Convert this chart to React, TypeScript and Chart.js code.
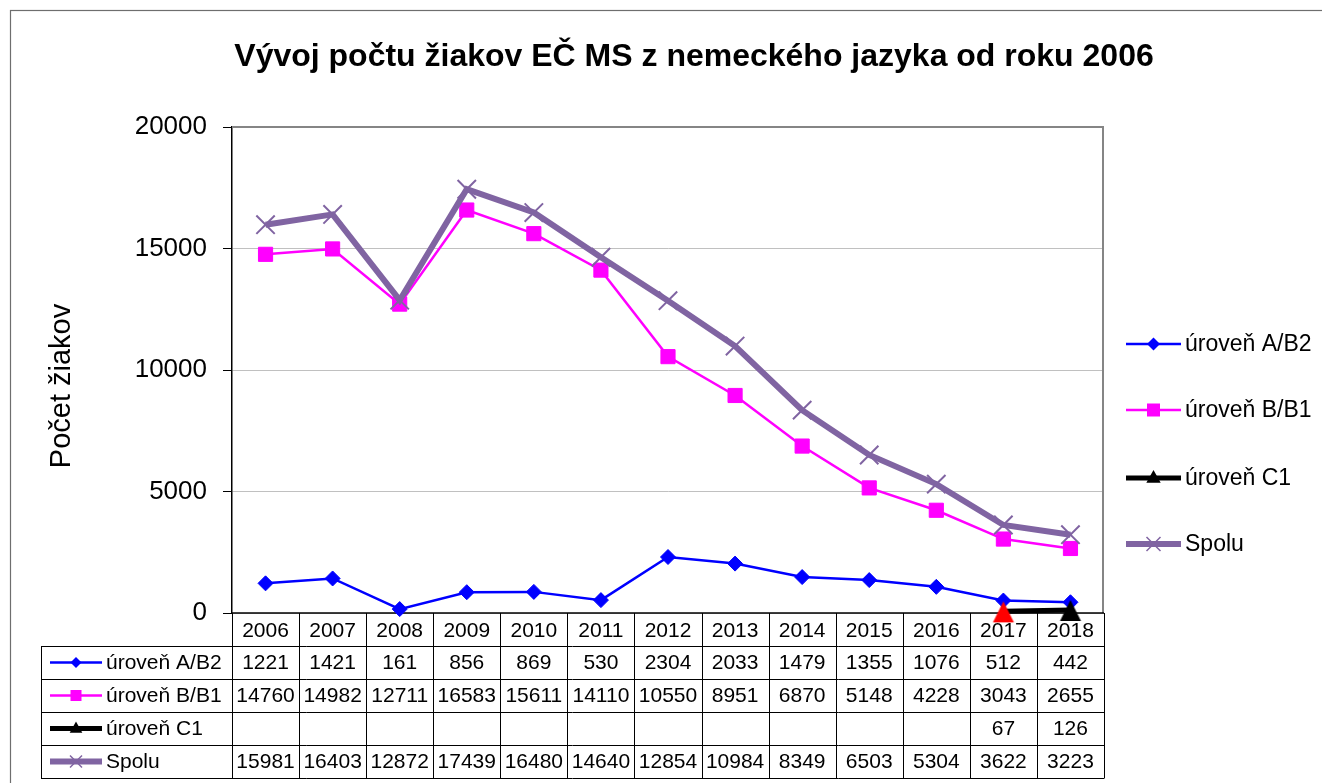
import React, { useEffect, useRef } from "react";
import { Chart, registerables } from "chart.js";

Chart.register(...registerables);

const years = ["2006", "2007", "2008", "2009", "2010", "2011", "2012", "2013", "2014", "2015", "2016", "2017", "2018"];
const seriesAB2 = [1221, 1421, 161, 856, 869, 530, 2304, 2033, 1479, 1355, 1076, 512, 442];
const seriesBB1 = [14760, 14982, 12711, 16583, 15611, 14110, 10550, 8951, 6870, 5148, 4228, 3043, 2655];
const seriesC1: (number | null)[] = [null, null, null, null, null, null, null, null, null, null, null, 67, 126];
const seriesSpolu = [15981, 16403, 12872, 17439, 16480, 14640, 12854, 10984, 8349, 6503, 5304, 3622, 3223];
const seriesNames = ["úroveň A/B2", "úroveň B/B1", "úroveň C1", "Spolu"];
const yTicks = [0, 5000, 10000, 15000, 20000];
const titleText = "Vývoj počtu žiakov EČ MS z nemeckého jazyka od roku 2006";
const yTitleText = "Počet žiakov";

const FONT = '"Liberation Sans", Arial, Helvetica, sans-serif';
const BLUE = "#0000FF";
const MAGENTA = "#FF00FF";
const BLACK = "#000000";
const PURPLE = "#8064A2";
const RED = "#FF0000";

type Style = { color: string; lineWidth: number; marker: string; legendSize: number; tableSize: number };
const legendStyles: Style[] = [
  { color: BLUE, lineWidth: 2.5, marker: "diamond", legendSize: 6.5, tableSize: 5.5 },
  { color: MAGENTA, lineWidth: 2.5, marker: "square", legendSize: 6.5, tableSize: 5.5 },
  { color: BLACK, lineWidth: 5, marker: "triangle", legendSize: 8, tableSize: 7 },
  { color: PURPLE, lineWidth: 6, marker: "x", legendSize: 7, tableSize: 6 },
];

function drawMarker(ctx: CanvasRenderingContext2D, kind: string, x: number, y: number, s: number, color: string) {
  ctx.save();
  ctx.fillStyle = color;
  ctx.strokeStyle = color;
  ctx.beginPath();
  if (kind === "diamond") {
    ctx.moveTo(x - s, y);
    ctx.lineTo(x, y - s);
    ctx.lineTo(x + s, y);
    ctx.lineTo(x, y + s);
    ctx.closePath();
    ctx.fill();
  } else if (kind === "square") {
    ctx.rect(x - s, y - s, 2 * s, 2 * s);
    ctx.fill();
  } else if (kind === "triangle") {
    ctx.moveTo(x, y - s);
    ctx.lineTo(x + s * 0.9, y + s * 0.6);
    ctx.lineTo(x - s * 0.9, y + s * 0.6);
    ctx.closePath();
    ctx.fill();
  } else if (kind === "x") {
    ctx.lineWidth = 1.5;
    ctx.moveTo(x - s, y - s);
    ctx.lineTo(x + s, y + s);
    ctx.moveTo(x + s, y - s);
    ctx.lineTo(x - s, y + s);
    ctx.stroke();
  }
  ctx.restore();
}

function makeTriangle(color: string): HTMLCanvasElement {
  const c = document.createElement("canvas");
  c.width = 24;
  c.height = 24;
  const g = c.getContext("2d")!;
  g.fillStyle = color;
  g.beginPath();
  g.moveTo(12, 2);
  g.lineTo(22.5, 23);
  g.lineTo(1.5, 23);
  g.closePath();
  g.fill();
  return c;
}

function drawKey(ctx: CanvasRenderingContext2D, st: Style, x1: number, x2: number, y: number, size: number) {
  ctx.save();
  ctx.strokeStyle = st.color;
  ctx.lineWidth = st.lineWidth;
  ctx.lineCap = "butt";
  ctx.beginPath();
  ctx.moveTo(x1, y);
  ctx.lineTo(x2, y);
  ctx.stroke();
  ctx.restore();
  drawMarker(ctx, st.marker, (x1 + x2) / 2, y, size, st.color);
}

const decorPlugin = {
  id: "decor",
  beforeDraw(chart: any) {
    const ctx: CanvasRenderingContext2D = chart.ctx;
    ctx.save();
    ctx.fillStyle = "#ffffff";
    ctx.fillRect(0, 0, chart.width, chart.height);
    ctx.strokeStyle = "#6e6e6e";
    ctx.lineWidth = 1.2;
    ctx.strokeRect(10.5, 10.5, chart.width + 50, chart.height + 50);
    ctx.fillStyle = "#000";
    ctx.font = `bold 32px ${FONT}`;
    ctx.textAlign = "center";
    ctx.textBaseline = "middle";
    ctx.fillText(titleText, 694, 57);
    ctx.save();
    ctx.translate(62, 386);
    ctx.rotate(-Math.PI / 2);
    ctx.font = `29px ${FONT}`;
    ctx.fillText(yTitleText, 0, 0);
    ctx.restore();
    ctx.restore();
  },
  beforeDatasetsDraw(chart: any) {
    const ctx: CanvasRenderingContext2D = chart.ctx;
    const a = chart.chartArea;
    ctx.save();
    ctx.strokeStyle = "#858585";
    ctx.lineWidth = 2;
    ctx.beginPath();
    ctx.moveTo(a.left, a.top);
    ctx.lineTo(a.right - 1, a.top);
    ctx.lineTo(a.right - 1, a.bottom);
    ctx.stroke();
    ctx.strokeStyle = "#000";
    ctx.lineWidth = 1.5;
    ctx.beginPath();
    ctx.moveTo(a.left, a.bottom);
    ctx.lineTo(a.right, a.bottom);
    ctx.stroke();
    ctx.restore();
  },
  afterDraw(chart: any) {
    const ctx: CanvasRenderingContext2D = chart.ctx;
    const a = chart.chartArea;
    const n = years.length;
    const band = (a.right - a.left) / n;
    const rows = [a.bottom, 646, 679, 712, 745, 778];
    const tableLeft = 41;
    ctx.save();
    ctx.strokeStyle = "#000";
    ctx.lineWidth = 1;
    ctx.beginPath();
    for (let r = 1; r < rows.length; r++) {
      const y = Math.round(rows[r]) + 0.5;
      ctx.moveTo(tableLeft, y);
      ctx.lineTo(a.right, y);
    }
    for (let k = 0; k <= n; k++) {
      const x = Math.round(a.left + k * band) + 0.5;
      ctx.moveTo(x, a.bottom);
      ctx.lineTo(x, rows[rows.length - 1] + 0.5);
    }
    ctx.moveTo(tableLeft + 0.5, rows[1]);
    ctx.lineTo(tableLeft + 0.5, rows[rows.length - 1] + 0.5);
    ctx.stroke();

    ctx.fillStyle = "#000";
    ctx.font = `21px ${FONT}`;
    ctx.textAlign = "center";
    ctx.textBaseline = "middle";
    const xScale = chart.scales.x;
    for (let i = 0; i < n; i++) {
      const cx = xScale.getPixelForValue(i);
      ctx.fillText(years[i], cx, (rows[0] + rows[1]) / 2 + 2);
    }
    const allSeries = [seriesAB2, seriesBB1, seriesC1, seriesSpolu];
    for (let s = 0; s < allSeries.length; s++) {
      const cy = (rows[s + 1] + rows[s + 2]) / 2 + 1;
      for (let i = 0; i < n; i++) {
        const v = allSeries[s][i];
        if (v === null || v === undefined) continue;
        ctx.fillText(String(v), xScale.getPixelForValue(i), cy);
      }
      const st = legendStyles[s];
      drawKey(ctx, st, 50, 102, cy - 1, st.tableSize);
      ctx.fillStyle = "#000";
      ctx.textAlign = "left";
      ctx.fillText(seriesNames[s], 106, cy);
      ctx.textAlign = "center";
    }

    const ly = [344, 410, 478, 544];
    ctx.font = `23px ${FONT}`;
    ctx.textAlign = "left";
    for (let s = 0; s < 4; s++) {
      const st = legendStyles[s];
      drawKey(ctx, st, 1126, 1181, ly[s], st.legendSize);
      ctx.fillStyle = "#000";
      ctx.fillText(seriesNames[s], 1185, ly[s] + 1);
    }
    ctx.restore();
  },
};

export default function App() {
  const ref = useRef<HTMLCanvasElement | null>(null);
  useEffect(() => {
    if (!ref.current) return;
    const redTri = makeTriangle(RED);
    const blackTri = makeTriangle(BLACK);
    const chart = new Chart(ref.current, {
      type: "line",
      data: {
        labels: years,
        datasets: [
          {
            label: seriesNames[0],
            data: seriesAB2,
            borderColor: BLUE,
            backgroundColor: BLUE,
            borderWidth: 2.5,
            pointStyle: "rectRot",
            pointRadius: 7.5,
            pointBorderWidth: 1,
            pointBackgroundColor: BLUE,
            pointBorderColor: BLUE,
            clip: false as any,
            order: 4,
          },
          {
            label: seriesNames[1],
            data: seriesBB1,
            borderColor: MAGENTA,
            backgroundColor: MAGENTA,
            borderWidth: 2.5,
            pointStyle: "rect",
            pointRadius: 10,
            pointBorderWidth: 1,
            pointBackgroundColor: MAGENTA,
            pointBorderColor: MAGENTA,
            clip: false as any,
            order: 3,
          },
          {
            label: seriesNames[2],
            data: seriesC1,
            borderColor: BLACK,
            backgroundColor: BLACK,
            borderWidth: 5,
            pointStyle: years.map((_, i) => (i === 11 ? redTri : blackTri)) as any,
            pointRadius: 12,
            pointBorderWidth: 0,
            pointBackgroundColor: years.map((_, i) => (i === 11 ? RED : BLACK)),
            pointBorderColor: years.map((_, i) => (i === 11 ? RED : BLACK)),
            clip: false as any,
            order: 2,
          },
          {
            label: seriesNames[3],
            data: seriesSpolu,
            borderColor: PURPLE,
            backgroundColor: PURPLE,
            borderWidth: 6,
            pointStyle: "crossRot",
            pointRadius: 13,
            pointBorderWidth: 2,
            pointBackgroundColor: PURPLE,
            pointBorderColor: PURPLE,
            clip: false as any,
            order: 1,
          },
        ],
      },
      options: {
        responsive: false,
        animation: false,
        events: [],
        layout: { padding: { top: 127, right: 218, bottom: 170, left: 0 } },
        plugins: {
          legend: { display: false },
          title: { display: false },
          tooltip: { enabled: false },
        },
        scales: {
          x: {
            type: "category",
            display: false,
            offset: true,
          },
          y: {
            min: 0,
            max: 20000,
            afterFit(scale: any) {
              scale.width = 232;
            },
            afterBuildTicks(scale: any) {
              scale.ticks = yTicks.map((v) => ({ value: v }));
            },
            ticks: {
              stepSize: 5000,
              color: "#000",
              padding: 16,
              font: { family: FONT, size: 26 },
              callback: (v: any) => String(v),
            },
            grid: {
              color: "#c0c0c0",
              lineWidth: 1,
              tickColor: "#000",
              tickLength: 9,
              tickWidth: 1,
            },
            border: { display: true, color: "#000", width: 1.5 },
          },
        },
      },
      plugins: [decorPlugin],
    });
    return () => chart.destroy();
  }, []);
  return (
    <div style={{ position: "absolute", left: 0, top: 0, width: 1322, height: 783 }}>
      <canvas ref={ref} width={1322} height={783} style={{ display: "block" }} />
    </div>
  );
}
